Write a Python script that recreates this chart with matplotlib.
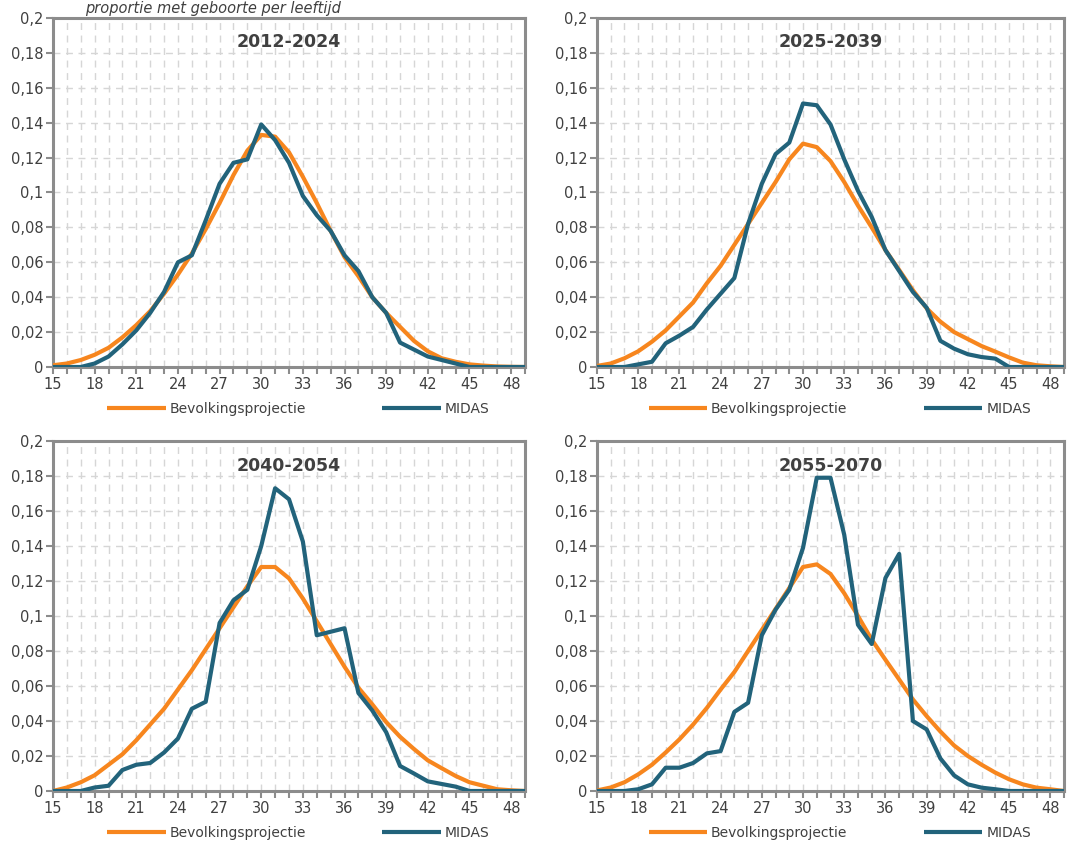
import matplotlib
matplotlib.use("Agg")
import matplotlib.pyplot as plt
from matplotlib.ticker import MultipleLocator, FixedLocator

ages = list(range(15, 50))

titles = ["2012-2024", "2025-2039", "2040-2054", "2055-2070"]
series_names = ["Bevolkingsprojectie", "MIDAS"]
y_tick_values = [0, 0.02, 0.04, 0.06, 0.08, 0.1, 0.12, 0.14, 0.16, 0.18, 0.2]
y_tick_labels = ["0", "0,02", "0,04", "0,06", "0,08", "0,1", "0,12", "0,14", "0,16", "0,18", "0,2"]
x_tick_values = [15, 18, 21, 24, 27, 30, 33, 36, 39, 42, 45, 48]
header = "proportie met geboorte per leeftijd"

# 2012-2024
bev_2012 = [0.001, 0.002, 0.004, 0.007, 0.011, 0.017, 0.024, 0.032, 0.042, 0.053,
            0.065, 0.079, 0.094, 0.110, 0.124, 0.133, 0.132, 0.123, 0.109, 0.094,
            0.078, 0.063, 0.052, 0.040, 0.031, 0.023, 0.015, 0.009, 0.005, 0.003,
            0.0015, 0.0008, 0.0003, 0.0001, 0.0]
midas_2012 = [0.0, 0.0, 0.0, 0.002, 0.006, 0.013, 0.021, 0.031, 0.043, 0.060,
              0.064, 0.084, 0.105, 0.117, 0.119, 0.139, 0.130, 0.117, 0.098, 0.087,
              0.078, 0.064, 0.055, 0.040, 0.031, 0.014, 0.010, 0.006, 0.004, 0.002,
              0.0, 0.0, 0.0, 0.0, 0.0]

# 2025-2039
bev_2025 = [0.0006, 0.002, 0.005, 0.009, 0.0145, 0.021, 0.029, 0.037, 0.048, 0.058,
            0.070, 0.082, 0.094, 0.106, 0.119, 0.128, 0.126, 0.118, 0.106, 0.0925,
            0.080, 0.067, 0.0556, 0.044, 0.0336, 0.026, 0.020, 0.016, 0.012, 0.0088,
            0.0055, 0.0025, 0.001, 0.0004, 0.0]
midas_2025 = [0.0, 0.0, 0.0, 0.0015, 0.003, 0.0136, 0.018, 0.023, 0.033, 0.042,
              0.051, 0.082, 0.105, 0.122, 0.1286, 0.151, 0.150, 0.139, 0.119, 0.101,
              0.086, 0.067, 0.055, 0.043, 0.034, 0.015, 0.0105, 0.0073, 0.0057, 0.0048,
              0.0, 0.0, 0.0, 0.0, 0.0]

# 2040-2054
bev_2040 = [0.0, 0.002, 0.005, 0.009, 0.015, 0.021, 0.029, 0.038, 0.047, 0.058,
            0.069, 0.081, 0.093, 0.105, 0.117, 0.128, 0.128, 0.1215, 0.110, 0.097,
            0.084, 0.071, 0.059, 0.0495, 0.0394, 0.031, 0.024, 0.0175, 0.013, 0.0086,
            0.005, 0.003, 0.001, 0.0004, 0.0]
midas_2040 = [0.0, 0.0, 0.0, 0.002, 0.003, 0.012, 0.015, 0.016, 0.022, 0.030,
              0.047, 0.051, 0.096, 0.109, 0.115, 0.140, 0.173, 0.1667, 0.1425, 0.089,
              0.091, 0.093, 0.056, 0.046, 0.0336, 0.0143, 0.010, 0.0055, 0.004, 0.0025,
              0.0, 0.0, 0.0, 0.0, 0.0]

# 2055-2070
bev_2055 = [0.0003, 0.002, 0.005, 0.0095, 0.015, 0.022, 0.0295, 0.038, 0.0475, 0.058,
            0.068, 0.080, 0.092, 0.104, 0.116, 0.128, 0.1295, 0.124, 0.113, 0.100,
            0.0865, 0.075, 0.0637, 0.0523, 0.0428, 0.034, 0.026, 0.020, 0.015, 0.0105,
            0.0067, 0.0038, 0.0019, 0.001, 0.0]
midas_2055 = [0.0, 0.0, 0.0, 0.001, 0.0038, 0.0133, 0.0133, 0.016, 0.0215, 0.0228,
              0.0452, 0.0504, 0.089, 0.1036, 0.115, 0.139, 0.179, 0.179, 0.1464, 0.095,
              0.084, 0.1217, 0.1355, 0.040, 0.0352, 0.0186, 0.0089, 0.0038, 0.0019, 0.001,
              0.0, 0.0, 0.0, 0.0, 0.0]

bev_all = [bev_2012, bev_2025, bev_2040, bev_2055]
midas_all = [midas_2012, midas_2025, midas_2040, midas_2055]

ORANGE = "#F7861E"
BLUE = "#22637B"
SPINE = "#8C8C8C"
GRID = "#D6D6D6"
TEXT = "#404040"

plt.rcParams['font.family'] = ['DejaVu Sans']

W, H = 1067, 847
fig = plt.figure(figsize=(W / 100, H / 100), dpi=100)

# axes rectangles in pixels: left, right, top, bottom
rects = [(53, 525, 18, 367), (597, 1064, 18, 367),
         (53, 525, 441, 791), (597, 1064, 441, 791)]

for i, (l, r, t, b) in enumerate(rects):
    ax = fig.add_axes([l / W, 1 - b / H, (r - l) / W, (b - t) / H])
    ax.plot(ages, bev_all[i], color=ORANGE, lw=3.0, label=series_names[0],
            solid_capstyle='butt', zorder=3)
    ax.plot(ages, midas_all[i], color=BLUE, lw=3.0, label=series_names[1],
            solid_capstyle='butt', zorder=4)
    ax.set_xlim(15, 49)
    ax.set_ylim(0, 0.2)
    ax.xaxis.set_major_locator(FixedLocator(x_tick_values))
    ax.xaxis.set_minor_locator(MultipleLocator(1))
    ax.set_xticklabels([str(v) for v in x_tick_values])
    ax.yaxis.set_major_locator(FixedLocator(y_tick_values))
    ax.set_yticklabels(y_tick_labels)
    ax.grid(True, which='both', axis='x', color=GRID, linestyle=(0, (5, 4)), lw=1.0, zorder=0)
    ax.grid(True, which='major', axis='y', color=GRID, linestyle=(0, (5, 4)), lw=1.0, zorder=0)
    ax.set_axisbelow(True)
    for s in ax.spines.values():
        s.set_color(SPINE)
        s.set_linewidth(2.2)
    ax.tick_params(axis='both', which='both', direction='out', color=SPINE,
                   width=1.5, labelcolor=TEXT, labelsize=10.5, pad=2)
    ax.tick_params(axis='x', which='both', length=5)
    ax.tick_params(axis='y', which='major', length=5)
    ax.text(0.5, 0.93, titles[i], transform=ax.transAxes, ha='center', va='center',
            fontsize=12.5, fontweight='bold', color=TEXT)
    ax.legend(loc='upper center', bbox_to_anchor=(0.52, -0.065), ncol=2, frameon=False,
              handlelength=4.2, columnspacing=5.5, fontsize=10, labelcolor=TEXT,
              handletextpad=0.3)

fig.text(85 / W, 1 - 1 / H, header, ha='left', va='top', fontsize=10.5,
         style='italic', color=TEXT)

fig.savefig("out.png", dpi=100)
